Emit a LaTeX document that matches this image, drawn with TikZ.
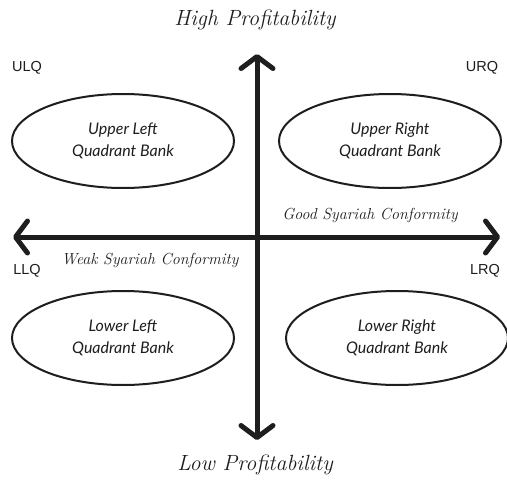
\documentclass[tikz,border=0pt]{standalone}
\usepackage{fontspec}
\usetikzlibrary{arrows.meta,shapes.geometric}
\newfontfamily\labfont{Liberation Sans}
\newfontfamily\qfont{Lato}
\definecolor{ink}{HTML}{1E1E1E}
\begin{document}
\begin{tikzpicture}[x=1pt,y=-1pt,
  axis/.style={line width=5pt, draw=ink,
    {Straight Barb[length=12pt,width=32pt,round]}-{Straight Barb[length=12pt,width=32pt,round]}},
  quad/.style={ellipse, draw=ink, line width=2pt, minimum width=222pt, minimum height=94pt,
    inner sep=0pt, align=center, text=ink, font=\qfont\itshape\fontsize{16}{22}\selectfont},
  ttl/.style={text=ink, font=\itshape\fontsize{22}{24}\selectfont},
  side/.style={text=ink, font=\itshape\fontsize{16}{18}\selectfont},
  code/.style={text=ink, font=\labfont\fontsize{14.5}{16}\selectfont}]
\useasboundingbox (0,0) rectangle (507,482);
\fill[white] (0,0) rectangle (507,482);
% axes
\coordinate (top) at (257,54);
\coordinate (bot) at (257,440);
\coordinate (lft) at (13,237);
\coordinate (rgt) at (500,237);
\draw[axis] (bot) -- (top);
\draw[axis] (lft) -- (rgt);
% quadrant ellipses
\node[quad] (ul) at (123,141) {Upper Left\\Quadrant Bank};
\node[quad] (ur) at (390,141) {Upper Right\\Quadrant Bank};
\node[quad] (ll) at (123,338) {Lower Left\\Quadrant Bank};
\node[quad] (lr) at (397,338) {Lower Right\\Quadrant Bank};
% titles
\node[ttl] (high) at (255,20) {High Profitability};
\node[ttl] (low) at (255,465) {Low Profitability};
\node[side] (good) at (370,215) {Good Syariah Conformity};
\node[side] (weak) at (150,260) {Weak Syariah Conformity};
% corner codes
\node[code] (ulq) at (27,68) {ULQ};
\node[code] (urq) at (482,68) {URQ};
\node[code] (llq) at (27,271) {LLQ};
\node[code] (lrq) at (485,271) {LRQ};
\end{tikzpicture}
\end{document}
